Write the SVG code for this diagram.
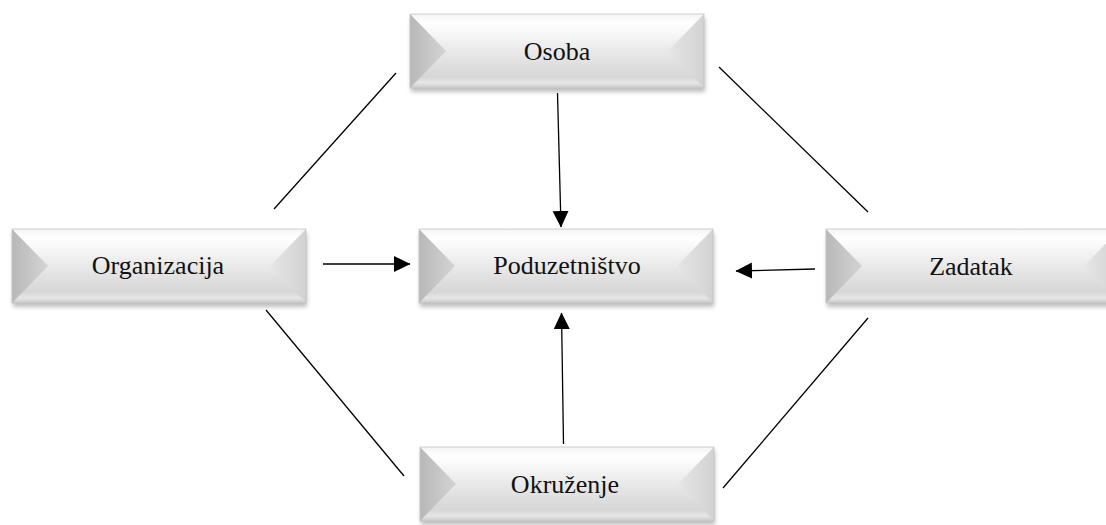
<svg xmlns="http://www.w3.org/2000/svg" width="1106" height="525" viewBox="0 0 1106 525">
  <defs>
    <style>
      .lbl { font-family: "Liberation Serif", "Times New Roman", serif; font-size: 26px; fill: #111; text-anchor: middle; }
      .conn { stroke: #000; stroke-width: 1.3; fill: none; }
    </style>
    <linearGradient id="face" x1="0" y1="0" x2="0" y2="1">
      <stop offset="0" stop-color="#f4f4f4"/>
      <stop offset="0.12" stop-color="#ffffff"/>
      <stop offset="0.45" stop-color="#ececec"/>
      <stop offset="0.85" stop-color="#d6d6d6"/>
      <stop offset="0.93" stop-color="#e6e6e6"/>
      <stop offset="1" stop-color="#c9c9c9"/>
    </linearGradient>
    <linearGradient id="leftG" x1="0" y1="0" x2="1" y2="0">
      <stop offset="0" stop-color="#b8b8b8"/>
      <stop offset="1" stop-color="#d4d4d4"/>
    </linearGradient>
    <linearGradient id="rightG" x1="0" y1="0" x2="1" y2="0">
      <stop offset="0" stop-color="#e6e6e6"/>
      <stop offset="1" stop-color="#d2d2d2"/>
    </linearGradient>
    <filter id="shadow" x="-10%" y="-20%" width="120%" height="150%">
      <feGaussianBlur stdDeviation="2.2"/>
    </filter>
    <symbol id="bevel" viewBox="-4 -4 304 86" width="304" height="86" overflow="visible">
      <rect x="1" y="4" width="294" height="74" fill="#8a8a8a" opacity="0.55" filter="url(#shadow)"/>
      <rect x="0" y="0" width="294" height="74" fill="url(#face)"/>
      <polygon points="0,0 36,37 0,74" fill="url(#leftG)"/>
      <polygon points="294,0 258,37 294,74" fill="url(#rightG)"/>
      <rect x="0" y="0" width="294" height="74" fill="none" stroke="#c4c4c4" stroke-width="0.8"/>
    </symbol>
    <marker id="arrow" markerUnits="userSpaceOnUse" markerWidth="17" markerHeight="17" viewBox="0 0 17 17" refX="16" refY="8.5" orient="auto">
      <path d="M0,0.5 L16.5,8.5 L0,16.5 Z" fill="#000"/>
    </marker>
  </defs>

  <g id="connectors">
    <line class="conn" x1="396" y1="73" x2="274" y2="209"/>
    <line class="conn" x1="719" y1="67" x2="868" y2="212"/>
    <line class="conn" x1="266" y1="310" x2="404" y2="476"/>
    <line class="conn" x1="868" y1="318" x2="723" y2="488"/>
    <line class="conn" x1="557.5" y1="93" x2="561" y2="227" marker-end="url(#arrow)"/>
    <line class="conn" x1="563.5" y1="444" x2="561.5" y2="313" marker-end="url(#arrow)"/>
    <line class="conn" x1="323" y1="264" x2="410" y2="264" marker-end="url(#arrow)"/>
    <line class="conn" x1="815" y1="269" x2="736" y2="271" marker-end="url(#arrow)"/>
  </g>

  <g id="node-osoba">
    <use href="#bevel" x="406" y="10"/>
    <text class="lbl" x="557" y="60">Osoba</text>
  </g>
  <g id="node-organizacija">
    <use href="#bevel" x="8" y="225"/>
    <text class="lbl" x="158" y="274">Organizacija</text>
  </g>
  <g id="node-poduzetnistvo">
    <use href="#bevel" x="415" y="225"/>
    <text class="lbl" x="567" y="274">Poduzetništvo</text>
  </g>
  <g id="node-zadatak">
    <use href="#bevel" x="822" y="225"/>
    <text class="lbl" x="971" y="275">Zadatak</text>
  </g>
  <g id="node-okruzenje">
    <use href="#bevel" x="416" y="443"/>
    <text class="lbl" x="565" y="493">Okruženje</text>
  </g>
</svg>
